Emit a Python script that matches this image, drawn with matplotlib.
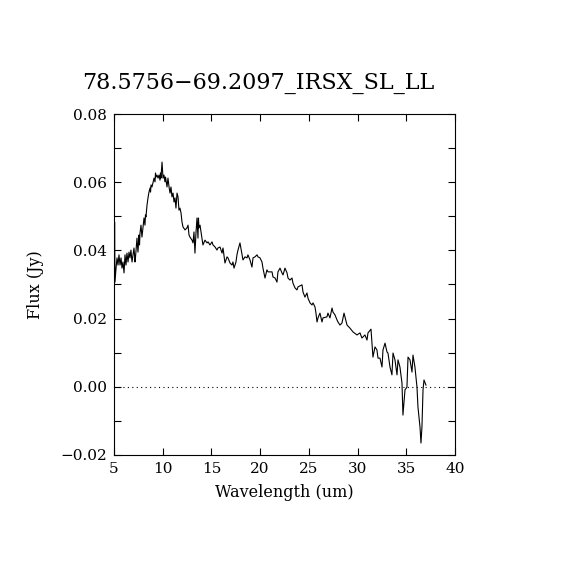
import matplotlib
matplotlib.use("Agg")
import matplotlib.pyplot as plt
from matplotlib.ticker import MultipleLocator, FuncFormatter

title = "78.5756\u221269.2097_IRSX_SL_LL"
xlabel = "Wavelength (um)"
ylabel = "Flux (Jy)"

wave = [5.03, 5.06, 5.10, 5.21, 5.31, 5.41, 5.51, 5.62, 5.72, 5.82, 5.92,
        6.03, 6.13, 6.23, 6.33, 6.44, 6.54, 6.64, 6.74, 6.85, 7.05, 7.16, 7.21,
        7.36, 7.46, 7.57, 7.62, 7.67, 7.77, 7.87, 8.08, 8.18, 8.23, 8.28, 8.39,
        8.49, 8.59, 8.70, 8.75, 8.80, 8.90, 9.11, 9.21, 9.26, 9.31, 9.41,
        9.52, 9.62, 9.72, 9.77, 9.82, 9.93, 10.03, 10.13, 10.23, 10.29, 10.34,
        10.44, 10.54, 10.65, 10.75, 10.85, 10.95, 11.06, 11.16, 11.26, 11.36, 11.47,
        11.57, 11.67, 11.77, 11.88, 11.98, 12.08, 12.29, 12.49, 12.60, 12.70, 12.80,
        13.01, 13.11, 13.21, 13.31, 13.42, 13.52, 13.62, 13.67, 13.72, 13.83,
        14.03, 14.13, 14.34, 14.55, 14.65, 14.85, 15.06, 15.16, 15.37, 15.57, 15.67,
        15.88, 16.09, 16.19, 16.39, 16.60, 16.70, 16.91, 17.11, 17.21, 17.32,
        17.52, 17.62, 17.73, 17.93, 18.14, 18.24, 18.45, 18.65, 18.75, 18.96,
        19.16, 19.27, 19.47, 19.68, 19.78, 19.99, 20.19, 20.29, 20.50, 20.70, 20.81,
        21.22, 21.32, 21.53, 21.73, 21.83, 22.04, 22.24, 22.35, 22.55, 22.76, 22.86,
        23.06, 23.27, 23.37, 23.58, 23.78, 23.89, 24.30, 24.40, 24.60, 24.81, 24.91,
        25.12, 25.32, 25.43, 25.63, 25.73, 25.84, 25.94, 26.14, 26.35, 26.45,
        26.86, 26.96, 27.17, 27.38, 27.48, 27.68, 27.89, 27.99, 28.20, 28.40,
        28.61, 28.92, 29.22, 29.53, 29.94, 30.25, 30.45, 30.76, 30.97, 31.07,
        31.38, 31.48, 31.58, 31.79, 31.99, 32.10, 32.30, 32.51, 32.61,
        32.82, 33.02, 33.12, 33.33, 33.53, 33.64, 33.84, 34.05, 34.15, 34.35,
        34.56, 34.66, 34.87, 35.07, 35.18, 35.38, 35.59, 35.69, 35.89,
        36.10, 36.20, 36.41, 36.51, 36.61, 36.72, 36.82, 37.02]

flux = [0.0328, 0.0483, 0.0307, 0.0348, 0.0378, 0.0357, 0.0387, 0.0357, 0.0378, 0.0348, 0.0366,
        0.0334, 0.0387, 0.0357, 0.0392, 0.0366, 0.0395, 0.0378, 0.0401, 0.0366, 0.0407, 0.0366, 0.0381,
        0.0436, 0.0395, 0.0445, 0.0416, 0.0451, 0.0474, 0.0439, 0.0495, 0.0474, 0.0504, 0.0498, 0.0533,
        0.0554, 0.0571, 0.0583, 0.0571, 0.0592, 0.0586, 0.0612, 0.0601, 0.0627, 0.0615, 0.0621,
        0.0612, 0.0621, 0.0606, 0.0627, 0.0612, 0.0659, 0.0612, 0.0621, 0.0601, 0.0615, 0.0606,
        0.0586, 0.0612, 0.0586, 0.0568, 0.0586, 0.0557, 0.0568, 0.0542, 0.0554, 0.0524, 0.0568,
        0.0557, 0.0518, 0.0524, 0.0510, 0.0483, 0.0469, 0.0460, 0.0466, 0.0474, 0.0445, 0.0439,
        0.0430, 0.0422, 0.0454, 0.0392, 0.0454, 0.0495, 0.0436, 0.0495, 0.0466, 0.0474,
        0.0436, 0.0416, 0.0430, 0.0422, 0.0425, 0.0416, 0.0425, 0.0416, 0.0410, 0.0401, 0.0407,
        0.0410, 0.0392, 0.0407, 0.0363, 0.0381, 0.0378, 0.0363, 0.0357, 0.0366, 0.0348,
        0.0366, 0.0387, 0.0401, 0.0422, 0.0387, 0.0372, 0.0381, 0.0378, 0.0387, 0.0372,
        0.0351, 0.0378, 0.0381, 0.0387, 0.0381, 0.0378, 0.0366, 0.0348, 0.0319, 0.0343, 0.0337,
        0.0337, 0.0322, 0.0319, 0.0307, 0.0337, 0.0348, 0.0334, 0.0328, 0.0348, 0.0334, 0.0319,
        0.0313, 0.0319, 0.0304, 0.0290, 0.0284, 0.0293, 0.0299, 0.0278, 0.0263, 0.0275, 0.0260,
        0.0246, 0.0240, 0.0246, 0.0234, 0.0216, 0.0190, 0.0202, 0.0216, 0.0190, 0.0202,
        0.0205, 0.0216, 0.0202, 0.0231, 0.0219, 0.0211, 0.0196, 0.0190, 0.0181, 0.0187,
        0.0216, 0.0181, 0.0172, 0.0161, 0.0152, 0.0158, 0.0143, 0.0152, 0.0137, 0.0158,
        0.0169, 0.0128, 0.0087, 0.0117, 0.0108, 0.0084, 0.0084, 0.0058, 0.0108,
        0.0128, 0.0102, 0.0099, 0.0058, 0.0035, 0.0099, 0.0079, 0.0035, 0.0079, 0.0058,
        0.0011, -0.0083, -0.0009, -0.0001, 0.0087, 0.0079, 0.0043, 0.0093, 0.0058,
        -0.0001, -0.0059, -0.0118, -0.0165, -0.0118, -0.0009, 0.0020, 0.0005]

xlim = (5, 40)
ylim = (-0.02, 0.08)

plt.rcParams['font.family'] = ['DejaVu Serif']

fig = plt.figure(figsize=(5.7, 5.7), dpi=100)
ax = fig.add_axes([0.2, 0.2018, 0.5982, 0.5982])

ax.plot(wave, flux, color='black', linewidth=0.8)
ax.axhline(0.0, color='black', linestyle=(0, (1, 3)), linewidth=0.8)

ax.set_xlim(*xlim)
ax.set_ylim(*ylim)

ax.xaxis.set_major_locator(MultipleLocator(5))
ax.yaxis.set_major_locator(MultipleLocator(0.02))
ax.yaxis.set_minor_locator(MultipleLocator(0.01))
ax.yaxis.set_major_formatter(FuncFormatter(lambda v, p: f"{v:.2f}".replace("-", "\u2212")))

ax.tick_params(which='both', direction='in', top=True, right=True,
               length=5, width=0.8, labelsize=11, pad=5)
for s in ax.spines.values():
    s.set_linewidth(0.8)

ax.set_xlabel(xlabel, fontsize=11.5, labelpad=6)
ax.set_ylabel(ylabel, fontsize=11.5, labelpad=12)
ax.set_title(title, fontsize=16, pad=18, x=0.422)

fig.savefig("out.png", dpi=100)
